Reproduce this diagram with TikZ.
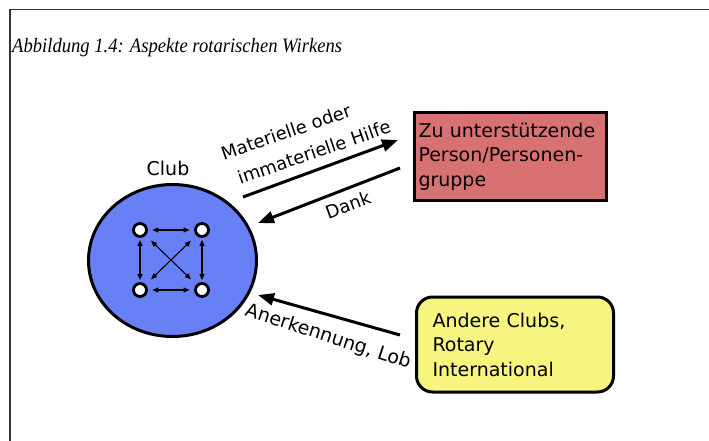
\documentclass[tikz,border=0pt]{standalone}
\usepackage{fontspec}
\setmainfont{DejaVu Sans}
\newfontfamily\capfont{Liberation Serif}
\usetikzlibrary{arrows.meta,shapes.geometric}
\definecolor{clubblue}{RGB}{104,128,246}
\definecolor{boxred}{RGB}{216,114,114}
\definecolor{boxyellow}{RGB}{245,245,128}
\definecolor{framegray}{RGB}{51,51,51}
\tikzset{
  member/.style={circle,draw=black,fill=white,line width=2.8pt,minimum size=13pt,inner sep=0pt},
  inarrow/.style={line width=1.1pt,{Triangle[length=6pt,width=5pt]}-{Triangle[length=6pt,width=5pt]}},
  bigarrow/.style={line width=3pt,-{Triangle[length=16pt,width=12pt]}},
  lbl/.style={font=\fontsize{18}{21}\selectfont,inner sep=0pt},
  boxtext/.style={font=\fontsize{19}{24.5}\selectfont,align=left,line width=3pt,draw=black}
}
\begin{document}
\begin{tikzpicture}[x=1pt,y=-1pt]
\useasboundingbox (0,0) rectangle (709,441);
% frame
\draw[framegray,line width=1.3pt] (10,441) -- (10,9.5) -- (709,9.5);
% caption
\node[anchor=base west,inner sep=0pt,font=\capfont\itshape\fontsize{18.6}{22}\selectfont] (caption) at (12,53) {\scalebox{1}[1.1]{Abbildung 1.4: Aspekte rotarischen Wirkens}};
% club
\node[ellipse,draw=black,fill=clubblue,line width=3pt,minimum width=168pt,minimum height=152pt,inner sep=0pt] (club) at (172.5,260.5) {};
\node[lbl,font=\fontsize{19}{22}\selectfont] (clublabel) at (168,168) {Club};
% members
\node[member] (m1) at (140,230) {};
\node[member] (m2) at (202,230) {};
\node[member] (m3) at (140,290) {};
\node[member] (m4) at (202,290) {};
\draw[inarrow,shorten <=4.5pt,shorten >=4.5pt] (m1) -- (m2);
\draw[inarrow,shorten <=4.5pt,shorten >=4.5pt] (m3) -- (m4);
\draw[inarrow,shorten <=2pt,shorten >=2pt] (m1) -- (m3);
\draw[inarrow,shorten <=2pt,shorten >=2pt] (m2) -- (m4);
\draw[inarrow,shorten <=7.5pt,shorten >=7.5pt] (m1) -- (m4);
\draw[inarrow,shorten <=7.5pt,shorten >=7.5pt] (m2) -- (m3);
% boxes
\node[boxtext,fill=boxred,rectangle,minimum width=192pt,minimum height=88pt,text width=184pt,inner xsep=4pt,anchor=north west] (person) at (413,111) {Zu unterstützende\\Person/Personen-\\gruppe};
\node[boxtext,fill=boxyellow,rectangle,rounded corners=16pt,minimum width=189pt,minimum height=95pt,text width=165pt,inner xsep=16pt,anchor=north west] (clubs) at (415,295.5) {Andere Clubs,\\Rotary\\International};
% arrows
\coordinate (h1) at (243,197);
\coordinate (h2) at (398,140);
\coordinate (d1) at (400,168);
\coordinate (d2) at (258,223);
\coordinate (a1) at (400,335);
\coordinate (a2) at (258,295);
\draw[bigarrow] (h1) -- (h2);
\draw[bigarrow] (d1) -- (d2);
\draw[bigarrow] (a1) -- (a2);
\node[lbl,rotate=19] (l1) at (286,132) {Materielle oder};
\node[lbl,rotate=19] (l2) at (314,152) {immaterielle Hilfe};
\node[lbl,rotate=20] (l3) at (348,205) {Dank};
\node[lbl,rotate=-18,font=\fontsize{19}{22}\selectfont] (l4) at (328,337) {Anerkennung, Lob};
\end{tikzpicture}
\end{document}
